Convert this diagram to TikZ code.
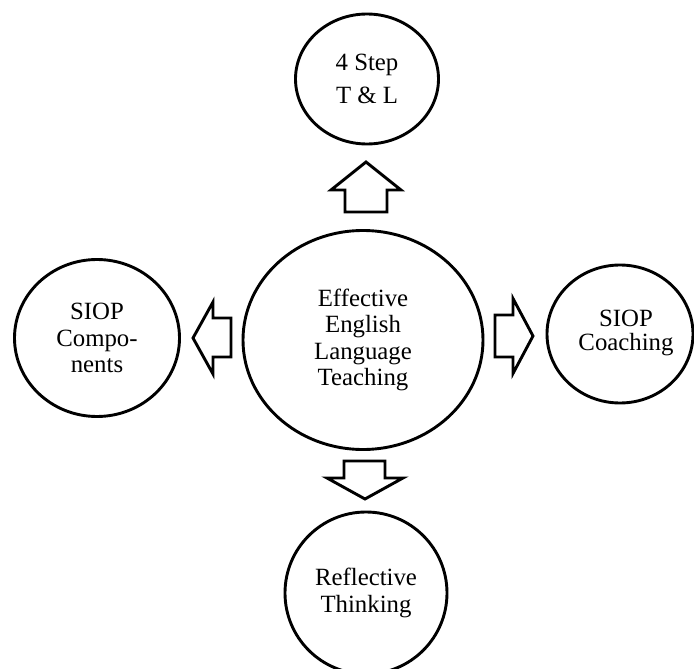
\documentclass[tikz,border=0pt]{standalone}
\usepackage{fontspec}
\setmainfont{Liberation Serif}
\usetikzlibrary{shapes.geometric,calc}
\begin{document}
\begin{tikzpicture}[x=1pt,y=-1pt,
  bubble/.style={draw,ellipse,line width=2.9pt,inner sep=0pt,align=center,
    font=\fontsize{24.8}{26.5}\selectfont},
  blockarrow/.style={draw,line width=2.9pt,line join=miter,fill=white}]
\useasboundingbox (0,0) rectangle (694,669);
% nodes
\node[bubble,minimum width=240pt,minimum height=219pt] (c) at (363,340)
  {Effective\\English\\Language\\Teaching};
\node[bubble,minimum width=143pt,minimum height=130pt,
  font=\fontsize{24.8}{33}\selectfont] (t) at (367,79) {4 Step\\T \& L};
\node[bubble,minimum width=165pt,minimum height=157pt] (l) at (97,338)
  {SIOP\\Compo-\\nents};
\node[bubble,minimum width=146pt,minimum height=138pt] (r) at (620,334) {};
\node[align=center,font=\fontsize{24.8}{24}\selectfont] (rt) at (626,333) {SIOP\\Coaching};
\node[bubble,minimum width=162pt,minimum height=162pt] (b) at (366,593)
  {Reflective\\Thinking};
% block arrows
\coordinate (au) at (366,162);
\coordinate (al) at (193,338);
\coordinate (ar) at (533,336);
\coordinate (ad) at (365,499);
\draw[blockarrow] (au) -- ++(35,28) -- ++(-14,0) -- ++(0,22) -- ++(-42,0)
  -- ++(0,-22) -- ++(-14,0) -- cycle;
\draw[blockarrow] (al) -- ++(20,-36) -- ++(0,16) -- ++(18,0) -- ++(0,39)
  -- ++(-18,0) -- ++(0,17) -- cycle;
\draw[blockarrow] (ar) -- ++(-20,-37.5) -- ++(0,16.5) -- ++(-18,0) -- ++(0,42)
  -- ++(18,0) -- ++(0,16.5) -- cycle;
\draw[blockarrow] (ad) -- ++(38,-21) -- ++(-18,0) -- ++(0,-17) -- ++(-41,0)
  -- ++(0,17) -- ++(-17,0) -- cycle;
\end{tikzpicture}
\end{document}
